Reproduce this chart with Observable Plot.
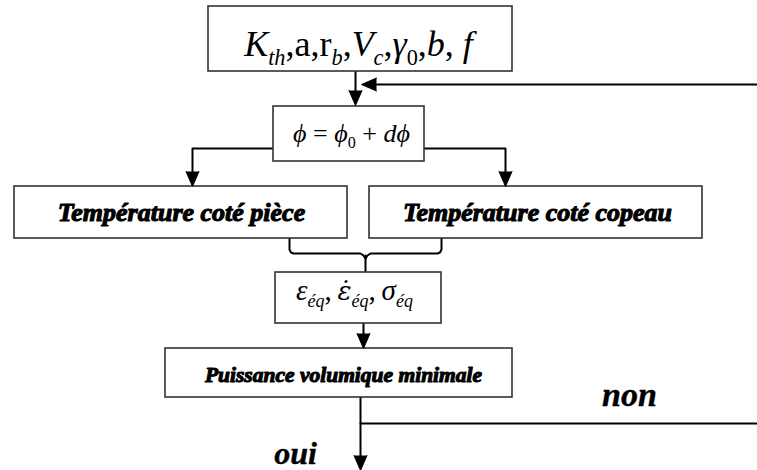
<!DOCTYPE html>
<html>
<head>
<meta charset="utf-8">
<script src="https://cdn.jsdelivr.net/npm/d3@7"></script>
<script src="https://cdn.jsdelivr.net/npm/@observablehq/plot@0.6"></script>
<style>
  html, body { margin: 0; padding: 0; background: #fff; }
  #chart svg { display: block; }
  #chart svg text, #chart svg tspan { font-family: "Liberation Serif", "Times New Roman", serif; }
  #chart svg tspan.acc { font-family: "DejaVu Serif", serif; }
</style>
</head>
<body>
<div id="chart"></div>
<script>
// Flowchart nodes
const boxes = [
  {id: "params", x1: 208, x2: 512, y1: 6,   y2: 71},
  {id: "phi",    x1: 273, x2: 424, y1: 106, y2: 161},
  {id: "piece",  x1: 14,  x2: 347, y1: 186, y2: 238},
  {id: "copeau", x1: 369, x2: 702, y1: 186, y2: 238},
  {id: "eps",    x1: 275, x2: 441, y1: 272, y2: 323},
  {id: "puiss",  x1: 165, x2: 512, y1: 348, y2: 397}
];

// Math labels: _{..} subscript, [..] upright, {{..}} accented glyph, rest italic
const mathLabels = [
  {x: 358, y: 55,  size: 36, text: "K_{th}[,a,r]_{b}[,]V_{c}[,]γ_{[0]}[,]b[, ]f"},
  {x: 351, y: 141, size: 26, text: "ϕ[ = ]ϕ_{[0]}[ + ]dϕ"},
  {x: 354, y: 299, size: 29, text: "ε_{éq}[,\u2009]<ε\u0307>_{éq}[,\u2009]σ_{éq}"}
];

const boxLabels = [
  {x: 181, y: 220, size: 26, text: "Température coté pièce"},
  {x: 537, y: 220, size: 26, text: "Température coté copeau"},
  {x: 343, y: 381, size: 21.5, text: "Puissance volumique minimale"}
];

const branchLabels = [
  {x: 629, y: 405, size: 34, text: "non"},
  {x: 295, y: 463, size: 32, text: "oui"}
];

// Connector polylines
const wires = [
  {id: "in",      pts: [[355, 71], [355, 92]]},
  {id: "loop",    pts: [[757, 84], [374, 84]]},
  {id: "left",    pts: [[273, 148], [192, 148], [192, 173]]},
  {id: "right",   pts: [[424, 148], [505, 148], [505, 173]]},
  {id: "braceL",  pts: [[289, 238], [289, 249], [290.5, 252], [293, 253], [360, 253], [363, 255], [365, 258]]},
  {id: "braceR",  pts: [[441, 238], [441, 249], [439.5, 252], [437, 253], [370, 253], [367, 255], [365, 258]]},
  {id: "stem",    pts: [[365, 255], [365, 272]]},
  {id: "toPuiss", pts: [[363, 323], [363, 335]]},
  {id: "out",     pts: [[360, 397], [360, 457]]},
  {id: "non",     pts: [[360, 423], [757, 423]]}
];

// Arrow heads: tip position and direction
const heads = [
  {x: 355, y: 105, dir: "down"},
  {x: 361, y: 84,  dir: "left"},
  {x: 192, y: 186, dir: "down"},
  {x: 505, y: 186, dir: "down"},
  {x: 363, y: 348, dir: "down"},
  {x: 360, y: 470, dir: "down"}
];

const HEAD_LEN = 15;
const dirs = {down: [0, 1, 180], left: [-1, 0, 270], up: [0, -1, 0], right: [1, 0, 90]};
const headData = heads.map(h => {
  const [dx, dy, rot] = dirs[h.dir];
  return {x: h.x - dx * HEAD_LEN, y: h.y - dy * HEAD_LEN, rot};
});
const wirePoints = wires.flatMap(w => w.pts.map(([x, y]) => ({id: w.id, x, y})));

const serif = "Liberation Serif";

const plot = Plot.plot({
  width: 757,
  height: 470,
  margin: 0,
  x: {domain: [0, 757], range: [0, 757], axis: null},
  y: {domain: [0, 470], range: [0, 470], axis: null},
  style: {background: "#fff", overflow: "visible"},
  marks: [
    Plot.line(wirePoints, {x: "x", y: "y", z: "id", stroke: "#000", strokeWidth: 2, curve: "linear"}),
    Plot.rect(boxes, {x1: "x1", x2: "x2", y1: "y1", y2: "y2", fill: "#fff", stroke: "#333", strokeWidth: 1.6}),
    Plot.vector(headData, {x: "x", y: "y", rotate: d => d.rot, length: HEAD_LEN, r: 6.5,
      shape: "spike", anchor: "start", fill: "#000", stroke: "#000", strokeWidth: 1}),
    Plot.text(mathLabels, {x: "x", y: "y", text: "text", fontSize: d => d.size, lineAnchor: "bottom",
      fontFamily: serif, fill: "#000"}),
    Plot.text(boxLabels, {x: "x", y: "y", text: "text", fontSize: d => d.size, lineAnchor: "bottom",
      fontFamily: serif, fontWeight: "bold", fontStyle: "italic", fill: "#000",
      stroke: "#000", strokeWidth: 1.1}),
    Plot.text(branchLabels, {x: "x", y: "y", text: "text", fontSize: d => d.size, lineAnchor: "bottom",
      fontFamily: serif, fontWeight: "bold", fontStyle: "italic", fill: "#000",
      stroke: "#000", strokeWidth: 0.4})
  ]
});

// Turn the math markup into tspans (subscripts, upright parts, accented glyphs)
function parse(s) {
  const out = [];
  let sub = false, up = false, acc = false, buf = "";
  const flush = () => { if (buf) { out.push({t: buf, sub, up, acc}); buf = ""; } };
  for (let i = 0; i < s.length; i++) {
    const c = s[i];
    if (c === "_" && s[i + 1] === "{") { flush(); sub = true; i++; }
    else if (c === "}" && sub) { flush(); sub = false; }
    else if (c === "[") { flush(); up = true; }
    else if (c === "]") { flush(); up = false; }
    else if (c === "<") { flush(); acc = true; }
    else if (c === ">") { flush(); acc = false; }
    else buf += c;
  }
  flush();
  return out;
}

d3.select(plot).selectAll("g[aria-label='text'] text").each(function () {
  const el = d3.select(this);
  const raw = this.textContent;
  if (!/[_\[]/.test(raw)) return;
  const fs = parseFloat(el.attr("font-size")) || 20;
  el.text(null);
  let shifted = false;
  const shift = fs * 0.25;
  for (const seg of parse(raw)) {
    const ts = el.append("tspan").text(seg.t)
      .attr("font-style", seg.up ? "normal" : "italic");
    if (seg.acc) ts.attr("class", "acc").attr("font-size", fs * 0.9);
    if (seg.sub) ts.attr("font-size", fs * 0.62);
    if (seg.sub && !shifted) { ts.attr("dy", shift); shifted = true; }
    else if (!seg.sub && shifted) { ts.attr("dy", -shift); shifted = false; }
  }
  el.style("white-space", "pre");
});

document.getElementById("chart").appendChild(plot);
</script>
</body>
</html>
